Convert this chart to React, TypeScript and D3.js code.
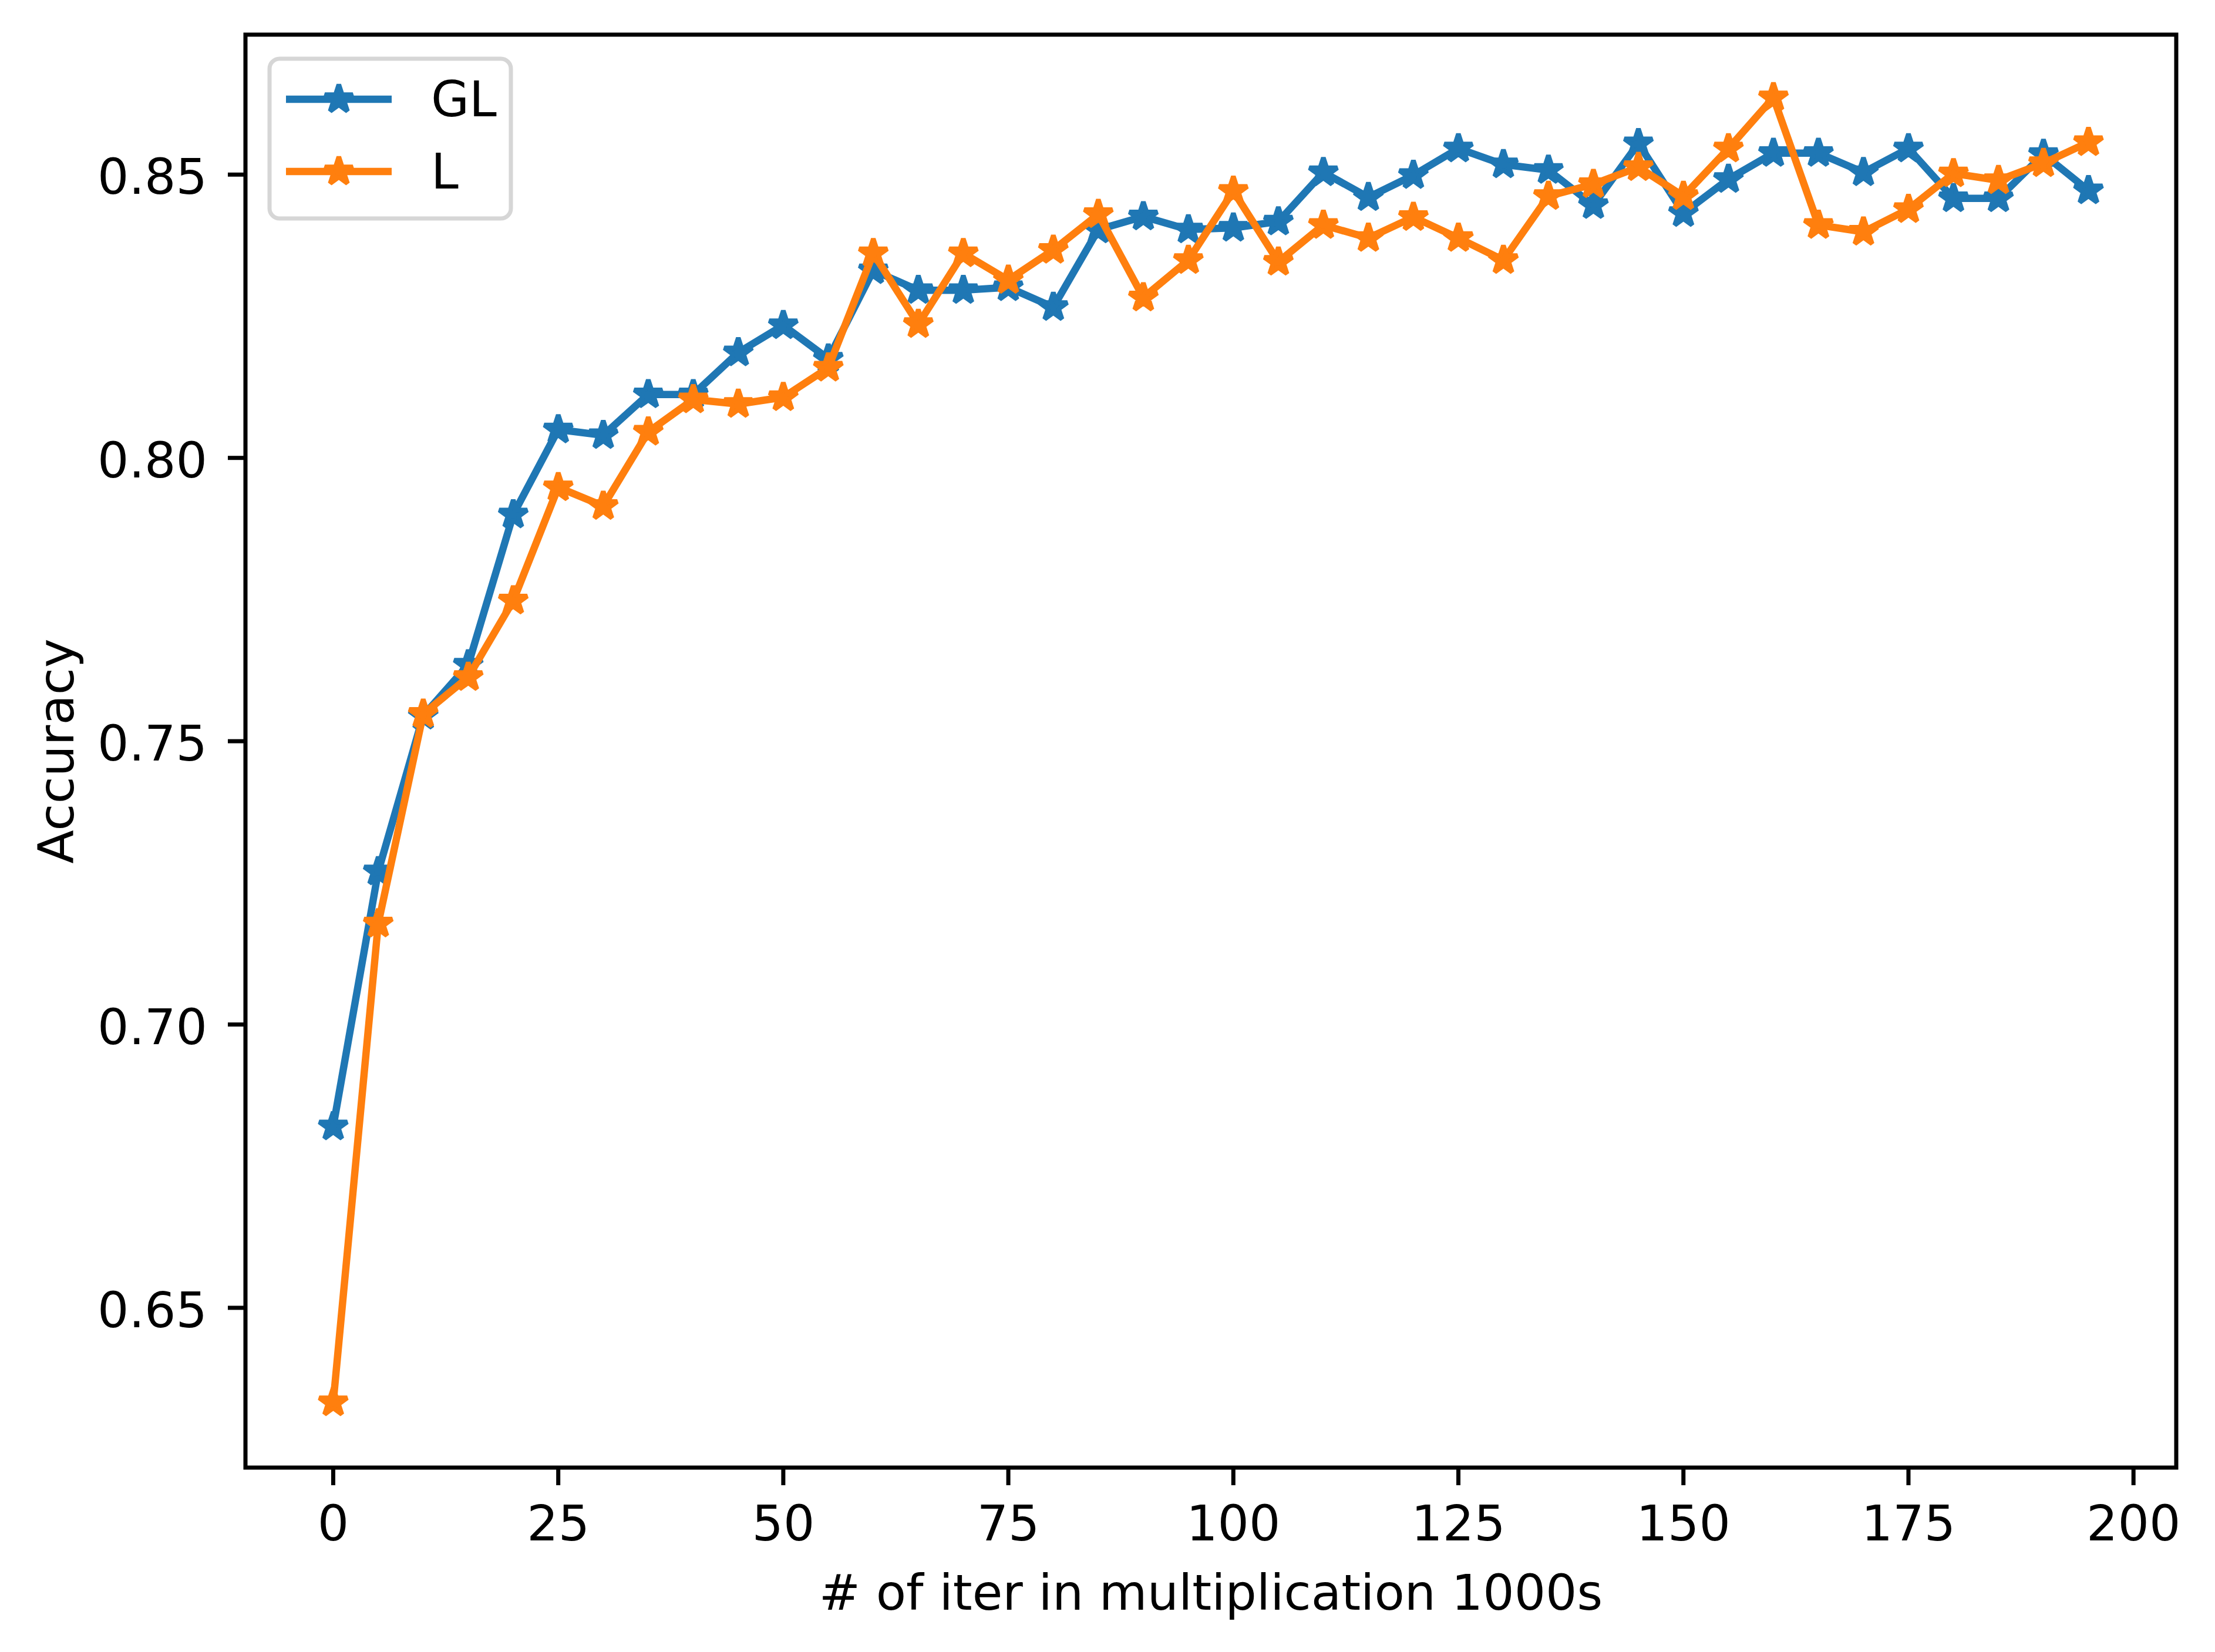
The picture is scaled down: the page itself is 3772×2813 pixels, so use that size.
import React, { useEffect, useRef } from 'react';
import * as d3 from 'd3';

// iterations (in 1000s)
const iterations = [
  0, 5, 10, 15, 20, 25, 30, 35, 40, 45,
  50, 55, 60, 65, 70, 75, 80, 85, 90, 95,
  100, 105, 110, 115, 120, 125, 130, 135, 140, 145,
  150, 155, 160, 165, 170, 175, 180, 185, 190, 195,
];

const glAccuracy = [
  0.682, 0.727, 0.7545, 0.7635, 0.790, 0.805, 0.804, 0.8112, 0.8112, 0.8186,
  0.8234, 0.8175, 0.8331, 0.8296, 0.8296, 0.8301, 0.8266, 0.8403, 0.8426, 0.8403,
  0.8406, 0.8417, 0.8504, 0.846, 0.8499, 0.8546, 0.8518, 0.8508, 0.8446, 0.8555,
  0.8432, 0.8492, 0.8538, 0.8538, 0.8504, 0.8546, 0.8458, 0.8458, 0.8536, 0.8472,
];

const lAccuracy = [
  0.6333, 0.7178, 0.7548, 0.7613, 0.7748, 0.7948, 0.7915, 0.8046, 0.8103, 0.8095,
  0.8107, 0.8159, 0.8361, 0.8236, 0.8361, 0.8314, 0.8367, 0.843, 0.8283, 0.8349,
  0.8471, 0.8346, 0.8411, 0.8388, 0.8425, 0.8388, 0.8349, 0.8462, 0.8483, 0.8513,
  0.8462, 0.8546, 0.8636, 0.8411, 0.8399, 0.8439, 0.8502, 0.849, 0.852, 0.8557,
];

const seriesNames = ['GL', 'L'];
const seriesColors = ['#1f77b4', '#ff7f0e'];

const xTicks = [0, 25, 50, 75, 100, 125, 150, 175, 200];
const yTicks = [0.65, 0.70, 0.75, 0.80, 0.85];

const xLimits = [-9.75, 204.75];
const yLimits = [0.6218, 0.8747];

const App: React.FC = () => {
  const svgRef = useRef<SVGSVGElement>(null);

  useEffect(() => {
    const svg = d3.select(svgRef.current);
    svg.selectAll('*').remove();

    const W = 3772;
    const H = 2813;
    const left = 418, right = 3706, top = 59, bottom = 2499;
    const font = 'DejaVu Sans, sans-serif';
    const fs = 84;

    svg.attr('width', W).attr('height', H);
    svg.append('rect').attr('width', W).attr('height', H).attr('fill', '#ffffff');

    const x = d3.scaleLinear().domain(xLimits).range([left, right]);
    const y = d3.scaleLinear().domain(yLimits).range([bottom, top]);

    // lines + star markers
    const star = d3.symbol().type(d3.symbolStar).size(702)();
    const allSeries = [glAccuracy, lAccuracy];

    allSeries.forEach((vals, si) => {
      const pts = iterations.map((it, i) => [it, vals[i]] as [number, number]);
      const line = d3.line<[number, number]>()
        .x(d => x(d[0]))
        .y(d => y(d[1]));

      svg.append('path')
        .datum(pts)
        .attr('d', line)
        .attr('fill', 'none')
        .attr('stroke', seriesColors[si])
        .attr('stroke-width', 12.5)
        .attr('stroke-linejoin', 'round')
        .attr('stroke-linecap', 'square');

      svg.append('g')
        .selectAll('path')
        .data(pts)
        .enter()
        .append('path')
        .attr('d', star)
        .attr('transform', d => `translate(${x(d[0])},${y(d[1])})`)
        .attr('fill', seriesColors[si])
        .attr('stroke', seriesColors[si])
        .attr('stroke-width', 8)
        .attr('stroke-linejoin', 'bevel');
    });

    // frame
    svg.append('rect')
      .attr('x', left)
      .attr('y', top)
      .attr('width', right - left)
      .attr('height', bottom - top)
      .attr('fill', 'none')
      .attr('stroke', '#000')
      .attr('stroke-width', 7)
      .attr('stroke-linejoin', 'miter');

    // x ticks
    const xt = svg.append('g');
    xTicks.forEach(t => {
      xt.append('line')
        .attr('x1', x(t)).attr('x2', x(t))
        .attr('y1', bottom).attr('y2', bottom + 30)
        .attr('stroke', '#000').attr('stroke-width', 7);
      xt.append('text')
        .attr('x', x(t))
        .attr('y', bottom + 124)
        .attr('text-anchor', 'middle')
        .style('font-family', font)
        .style('font-size', `${fs}px`)
        .text(String(t));
    });

    // y ticks
    const yt = svg.append('g');
    yTicks.forEach(t => {
      yt.append('line')
        .attr('x1', left - 30).attr('x2', left)
        .attr('y1', y(t)).attr('y2', y(t))
        .attr('stroke', '#000').attr('stroke-width', 7);
      yt.append('text')
        .attr('x', left - 65)
        .attr('y', y(t) + 33)
        .attr('text-anchor', 'end')
        .style('font-family', font)
        .style('font-size', `${fs}px`)
        .text(d3.format('.2f')(t));
    });

    // axis labels
    svg.append('text')
      .attr('x', (left + right) / 2)
      .attr('y', 2741)
      .attr('text-anchor', 'middle')
      .style('font-family', font)
      .style('font-size', `${fs}px`)
      .text('# of iter in multiplication 1000s');

    svg.append('text')
      .attr('transform', `translate(125,${(top + bottom) / 2}) rotate(-90)`)
      .attr('text-anchor', 'middle')
      .style('font-family', font)
      .style('font-size', `${fs}px`)
      .text('Accuracy');

    // legend
    const legend = svg.append('g');
    legend.append('rect')
      .attr('x', 459)
      .attr('y', 100)
      .attr('width', 411)
      .attr('height', 272)
      .attr('rx', 17)
      .attr('fill', '#ffffff')
      .attr('fill-opacity', 0.8)
      .attr('stroke', '#d6d6d6')
      .attr('stroke-width', 7);

    seriesNames.forEach((name, i) => {
      const ly = 169 + i * 123;
      legend.append('line')
        .attr('x1', 487).attr('x2', 667)
        .attr('y1', ly).attr('y2', ly)
        .attr('stroke', seriesColors[i])
        .attr('stroke-width', 12.5);
      legend.append('path')
        .attr('d', star)
        .attr('transform', `translate(577,${ly})`)
        .attr('fill', seriesColors[i])
        .attr('stroke', seriesColors[i])
        .attr('stroke-width', 8)
        .attr('stroke-linejoin', 'bevel');
      legend.append('text')
        .attr('x', 734)
        .attr('y', ly + 29)
        .style('font-family', font)
        .style('font-size', `${fs}px`)
        .text(name);
    });
  }, []);

  return (
    <div style={{ position: 'absolute', left: 0, top: 0 }}>
      <svg ref={svgRef} style={{ display: 'block' }}></svg>
    </div>
  );
};

export default App;
